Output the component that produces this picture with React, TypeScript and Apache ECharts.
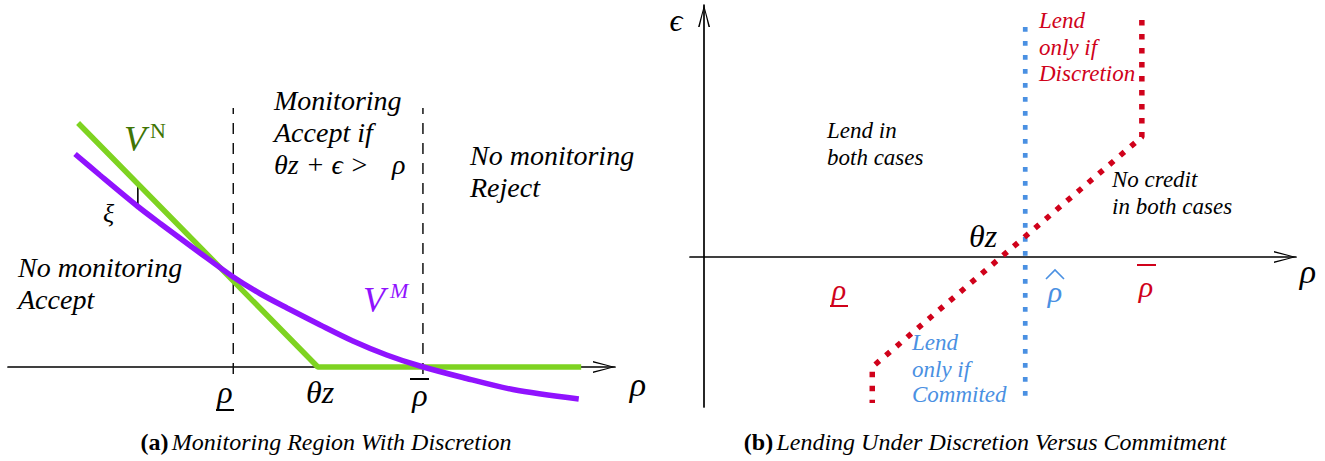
import React, { useEffect, useRef } from 'react'
import * as echarts from 'echarts'

/*==================================================================
    DATA
==================================================================*/
// panel (a): rho on the x axis, value on the y axis
const RHO_A_MAX = 10.05
const VN_POINTS: [number, number][] = [[1.16, 4.88], [5.13, 0], [9.49, 0]]
const VM_POINTS: [number, number][] = [
  [1.11, 4.26], [1.52, 3.84], [2.15, 3.21], [2.52, 2.87], [3.18, 2.28], [3.73, 1.8],
  [4.17, 1.47], [4.62, 1.18], [5.17, 0.84], [5.71, 0.52], [6.27, 0.24], [6.82, 0.02],
  [7.53, -0.21], [8.36, -0.45], [9.45, -0.64],
]
const THRESHOLDS_A = [3.73, 6.87] // rho underbar, rho bar
const DASH_RANGE_A: [number, number] = [-0.14, 5.18]
const XI_SEGMENT: [number, number][] = [[2.15, 3.68], [2.15, 3.21]]

// panel (b): rho on the x axis, epsilon on the y axis
const RED_BOUNDARY: [number, number][] = [[7.47, 4.74], [7.47, 2.4], [2.87, -2.2], [2.87, -2.92]]
const BLUE_BOUNDARY: [number, number][] = [[5.48, 4.6], [5.48, -2.92]]

/*==================================================================
    CONSTANTS
==================================================================*/
const GREEN = '#7ED321'
const DARK_GREEN = '#417505'
const PURPLE = '#9013FE'
const RED = '#D0021B'
const BLUE = '#4A90E2'
const FONT = "'Liberation Serif', 'DejaVu Serif', serif"
const ARROW = 'path://M0,22 L6,0 L12,22 L10.4,22 L6,3.2 L1.6,22 Z'

/*==================================================================
    HELPERS
==================================================================*/
const hiddenAxis = (gridIndex: number, min: number, max: number) => ({
  type: 'value' as const, gridIndex, min, max,
  axisLine: { show: false }, axisTick: { show: false }, axisLabel: { show: false }, splitLine: { show: false },
})

const arrowAxis = (gridIndex: number, min: number, max: number) => ({
  type: 'value' as const, gridIndex, min, max,
  axisLine: {
    show: true, onZero: true, symbol: ['none', ARROW], symbolSize: [12, 22], symbolOffset: [0, -11],
    lineStyle: { color: '#000', width: 1.7 },
  },
  axisTick: { show: false }, axisLabel: { show: false }, splitLine: { show: false },
})

const txt = (text: string, x: number, y: number, size: number, fill = '#000', align = 'left', italic = true) => ({
  type: 'text', x, y, silent: true,
  style: { text, fontSize: size, fontFamily: FONT, fontStyle: italic ? 'italic' : 'normal', fill, align, verticalAlign: 'middle' },
})

const seg = (x1: number, y1: number, x2: number, y2: number, stroke: string, w = 1.6) => ({
  type: 'line', silent: true, shape: { x1, y1, x2, y2 }, style: { stroke, lineWidth: w },
})

const caption = (tag: string, title: string, x: number, y: number) => ({
  type: 'text', x, y, silent: true,
  style: {
    text: `{b|${tag}} {i|${title}}`, align: 'center', verticalAlign: 'middle', fill: '#000',
    rich: {
      b: { fontSize: 24, fontFamily: FONT, fontWeight: 'bold', fill: '#000' },
      i: { fontSize: 24, fontFamily: FONT, fontStyle: 'italic', fill: '#000' },
    },
  },
})

/*==================================================================
    APP
==================================================================*/
export default function App() {
  const ref = useRef<HTMLDivElement>(null)

  useEffect(() => {
    if (!ref.current) return
    const chart = echarts.init(ref.current, undefined, { renderer: 'svg' })

    const line = (data: [number, number][], idx: number, lineStyle: object, extra: object = {}) => ({
      type: 'line', xAxisIndex: idx, yAxisIndex: idx, data, symbol: 'none', silent: true, lineStyle, ...extra,
    })

    const option: echarts.EChartsOption = {
      animation: false,
      grid: [
        { left: 8, top: 92, width: 607, height: 325 },
        { left: 690, top: 5, width: 606, height: 402 },
      ],
      xAxis: [arrowAxis(0, 0, RHO_A_MAX), arrowAxis(1, -0.24, 10.1)],
      yAxis: [hiddenAxis(0, -1, 5.5), arrowAxis(1, -3, 5.04)],
      series: [
        ...THRESHOLDS_A.map((t) =>
          line([[t, DASH_RANGE_A[0]], [t, DASH_RANGE_A[1]]], 0, { color: '#111', width: 1.5, type: [11, 9] })),
        line(XI_SEGMENT, 0, { color: '#000', width: 1.6 }),
        line(VN_POINTS, 0, { color: GREEN, width: 5.5 }),
        line(VM_POINTS, 0, { color: PURPLE, width: 5.5 }, { smooth: 0.3 }),
        line(BLUE_BOUNDARY, 1, { color: BLUE, width: 4.7, type: [4.7, 9.3], cap: 'butt' }),
        line(RED_BOUNDARY, 1, { color: RED, width: 5.5, type: [5.5, 8.5], cap: 'butt' }),
      ] as echarts.SeriesOption[],
      graphic: [
        // panel (a)
        txt('Monitoring', 274, 100, 28),
        txt('Accept if', 274, 132, 28),
        txt('θz + ϵ >', 274, 164, 28),
        txt('ρ', 392, 164, 28),
        txt('No monitoring', 470, 155, 28),
        txt('Reject', 470, 187, 28),
        txt('No monitoring', 18, 267, 28),
        txt('Accept', 18, 299, 28),
        txt('V', 124, 139, 36, DARK_GREEN),
        txt('N', 150, 130, 22, DARK_GREEN, 'left', false),
        txt('V', 363, 300, 36, PURPLE),
        txt('M', 390, 290, 22, PURPLE),
        txt('ξ', 103, 213, 26),
        txt('ρ', 225, 392, 32, '#000', 'center'),
        seg(216, 410, 234, 410, '#000', 2),
        txt('θz', 320, 392, 32, '#000', 'center'),
        txt('ρ', 420, 395, 32, '#000', 'center'),
        seg(410, 379, 429, 379, '#000', 2),
        txt('ρ', 638, 384, 34, '#000', 'center'),
        caption('(a)', 'Monitoring Region With Discretion', 326, 442),
        // panel (b)
        txt('ϵ', 676, 20, 32, '#000', 'center'),
        txt('ρ', 1308, 271, 34, '#000', 'center'),
        txt('Lend', 1039, 20, 23, RED),
        txt('only if', 1039, 47, 23, RED),
        txt('Discretion', 1039, 73, 23, RED),
        txt('Lend in', 827, 130, 23),
        txt('both cases', 827, 157, 23),
        txt('No credit', 1112, 179, 23),
        txt('in both cases', 1112, 206, 23),
        txt('θz', 983, 236, 32, '#000', 'center'),
        txt('ρ', 839, 289, 30, RED, 'center'),
        seg(830, 306, 848, 306, RED, 2),
        txt('ρ', 1055, 291, 30, BLUE, 'center'),
        { type: 'polyline', silent: true, shape: { points: [[1046, 279], [1055, 270], [1064, 279]] }, style: { stroke: BLUE, lineWidth: 1.6, fill: 'none' } },
        txt('ρ', 1146, 286, 30, RED, 'center'),
        seg(1137, 265, 1156, 265, RED, 2),
        txt('Lend', 912, 342, 23, BLUE),
        txt('only if', 912, 369, 23, BLUE),
        txt('Commited', 912, 394, 23, BLUE),
        caption('(b)', 'Lending Under Discretion Versus Commitment', 985, 442),
      ] as any,
    }

    chart.setOption(option)
    return () => chart.dispose()
  }, [])

  return (
    <div style={{ position: 'absolute', left: 0, top: 0, width: 1325, height: 461, background: '#fff' }}>
      <div ref={ref} style={{ width: 1325, height: 461 }} />
    </div>
  )
}
